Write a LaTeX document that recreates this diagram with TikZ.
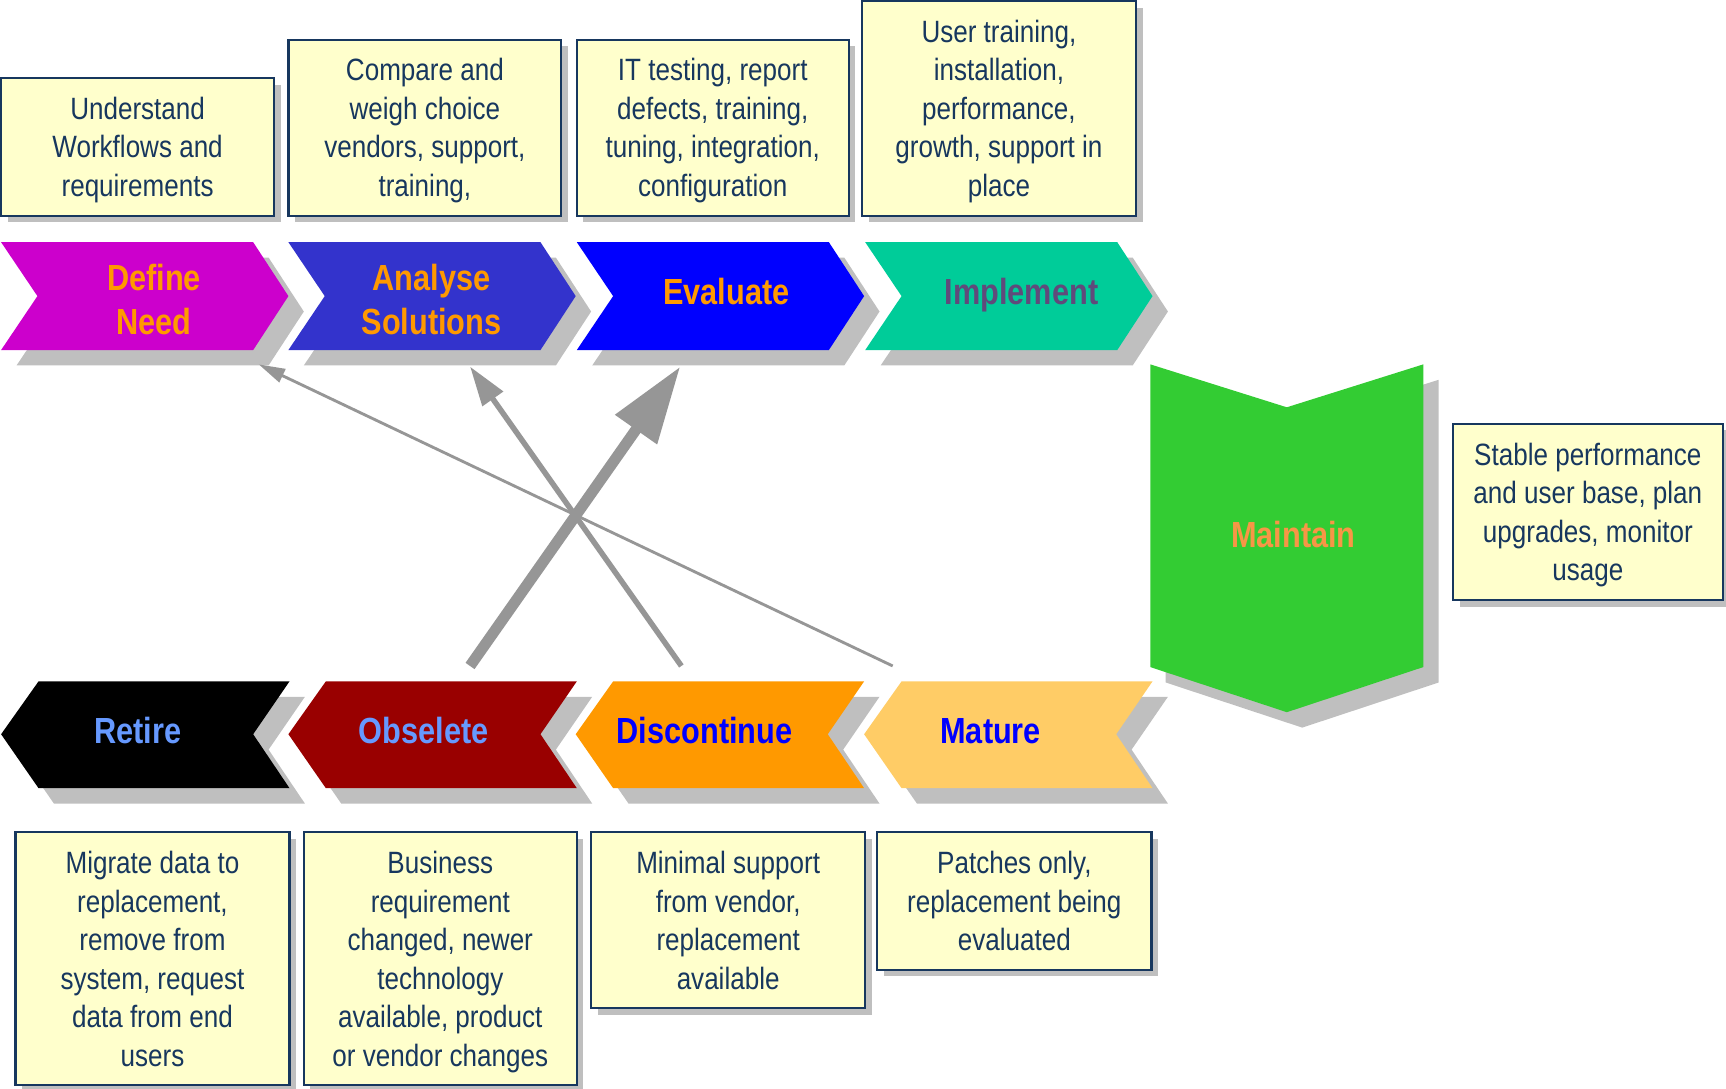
\documentclass[tikz,border=0pt]{standalone}
\usepackage{fontspec}
\setmainfont[FakeStretch=0.845]{Liberation Sans}
\usetikzlibrary{arrows.meta,shadows}
\definecolor{boxfill}{HTML}{FFFFCC}
\definecolor{boxline}{HTML}{17375E}
\definecolor{boxtext}{HTML}{17375E}
\definecolor{shadowgray}{HTML}{BFBFBF}
\definecolor{arrowgray}{HTML}{969696}
\definecolor{cDefine}{HTML}{CC00CC}
\definecolor{cAnalyse}{HTML}{3333CC}
\definecolor{cEvaluate}{HTML}{0000FF}
\definecolor{cImplement}{HTML}{00CC99}
\definecolor{cRetire}{HTML}{000000}
\definecolor{cObselete}{HTML}{990000}
\definecolor{cDiscontinue}{HTML}{FF9900}
\definecolor{cMature}{HTML}{FFCC66}
\definecolor{cMaintain}{HTML}{33CC33}
\definecolor{tOrange}{HTML}{FF9900}
\definecolor{tPurple}{HTML}{604A7B}
\definecolor{tLightBlue}{HTML}{6699FF}
\definecolor{tBlue}{HTML}{0000FF}
\definecolor{tMaintain}{HTML}{F79646}
\newcommand\boxfont{\fontsize{28}{35}\selectfont}
\newcommand\chevfont{\fontsize{33}{40}\selectfont\bfseries}
\newcommand\tstr{\rule{0pt}{26pt}}
\newcommand\bstr{\rule[-6pt]{0pt}{6pt}}
\begin{document}
\begin{tikzpicture}[x=1pt,y=-1pt,
  infobox/.style={draw=boxline, line width=2pt, fill=boxfill, text=boxtext,
    align=center, inner sep=0pt, font=\boxfont,
    general shadow={fill=shadowgray, shadow xshift=6pt, shadow yshift=-6pt}},
  chevlabel/.style={align=center, inner sep=0pt, font=\chevfont},
  conn/.style={draw=arrowgray, fill=arrowgray}]
\useasboundingbox (0,0) rectangle (1568,989);

% ---- top row chevrons (pointing right)
\foreach \x in {1,262,524,786}
  \fill[shadowgray, shift={(14,14)}] (\x,220) -- ++(229,0) -- ++(32,49) -- ++(-32,49) -- ++(-229,0) -- ++(33,-49) -- cycle;
\foreach \x/\c in {1/cDefine,262/cAnalyse,524/cEvaluate,786/cImplement}
  \fill[\c] (\x,220) -- ++(229,0) -- ++(32,49) -- ++(-32,49) -- ++(-229,0) -- ++(33,-49) -- cycle;

% ---- bottom row chevrons (pointing left)
\foreach \x in {1,262,523,785}
  \fill[shadowgray, shift={(14,14)}] (\x,667) -- ++(34,-48) -- ++(228,0) -- ++(-33,48) -- ++(33,49) -- ++(-228,0) -- cycle;
\foreach \x/\c in {1/cRetire,262/cObselete,523/cDiscontinue,785/cMature}
  \fill[\c] (\x,667) -- ++(34,-48) -- ++(228,0) -- ++(-33,48) -- ++(33,49) -- ++(-228,0) -- cycle;

% ---- maintain (pointing down)
\fill[shadowgray, shift={(14,14)}] (1045,331) -- (1169,370) -- (1293,331) -- (1293,606) -- (1169,647) -- (1045,606) -- cycle;
\fill[cMaintain] (1045,331) -- (1169,370) -- (1293,331) -- (1293,606) -- (1169,647) -- (1045,606) -- cycle;

% ---- chevron labels
\node[chevlabel, text=tOrange] (defineneed) at (140,272) {Define\\Need};
\node[chevlabel, text=tOrange] (analyse) at (392,272) {Analyse\\Solutions};
\node[chevlabel, text=tOrange, anchor=base] (evaluate) at (660,277) {Evaluate};
\node[chevlabel, text=tPurple, anchor=base] (implement) at (928,277) {Implement};
\node[chevlabel, text=tLightBlue, anchor=base] (retire) at (125,675) {Retire};
\node[chevlabel, text=tLightBlue, anchor=base] (obselete) at (385,675) {Obselete};
\node[chevlabel, text=tBlue, anchor=base] (discontinue) at (640,675) {Discontinue};
\node[chevlabel, text=tBlue, anchor=base] (mature) at (900,675) {Mature};
\node[chevlabel, text=tMaintain, anchor=base] (maintain) at (1175,497) {Maintain};

% ---- description boxes
\node[infobox, minimum width=248pt, minimum height=125pt] (bUnderstand) at (125,133.5)
  {\tstr Understand\\Workflows and\\requirements\bstr};
\node[infobox, minimum width=248pt, minimum height=160pt] (bCompare) at (386,116)
  {\tstr Compare and\\weigh choice\\vendors, support,\\training,\bstr};
\node[infobox, minimum width=247pt, minimum height=160pt] (bIT) at (647.5,116)
  {\tstr IT testing, report\\defects, training,\\tuning, integration,\\configuration\bstr};
\node[infobox, minimum width=249pt, minimum height=195pt] (bUser) at (907.5,98.5)
  {\tstr User training,\\installation,\\performance,\\growth, support in\\place\bstr};
\node[infobox, minimum width=245pt, minimum height=160pt] (bStable) at (1442.5,465)
  {\tstr Stable performance\\and user base, plan\\upgrades, monitor\\usage\bstr};
\node[infobox, minimum width=249pt, minimum height=230pt] (bMigrate) at (138.5,871)
  {\tstr Migrate data to\\replacement,\\remove from\\system, request\\data from end\\users\bstr};
\node[infobox, minimum width=248pt, minimum height=230pt] (bBusiness) at (400,871)
  {\tstr Business\\requirement\\changed, newer\\technology\\available, product\\or vendor changes\bstr};
\node[infobox, minimum width=249pt, minimum height=160pt] (bMinimal) at (661.5,836)
  {\tstr Minimal support\\from vendor,\\replacement\\available\bstr};
\node[infobox, minimum width=249pt, minimum height=125pt] (bPatches) at (921.5,818.5)
  {\tstr Patches only,\\replacement being\\evaluated\bstr};

% ---- connectors
\coordinate (thinTail) at (811,605);
\coordinate (thinTip) at (235,331);
\coordinate (medTail) at (619,605);
\coordinate (medTip) at (427,333);
\coordinate (thickTail) at (427,605);
\coordinate (thickTip) at (618,333);
\draw[conn, line width=2.6pt, -{Triangle[length=24pt,width=13pt]}] (thinTail) -- (thinTip);
\draw[conn, line width=5pt, -{Triangle[length=36pt,width=22pt]}] (medTail) -- (medTip);
\draw[conn, line width=10pt, -{Triangle[length=70pt,width=44pt]}] (thickTail) -- (thickTip);
\end{tikzpicture}
\end{document}
